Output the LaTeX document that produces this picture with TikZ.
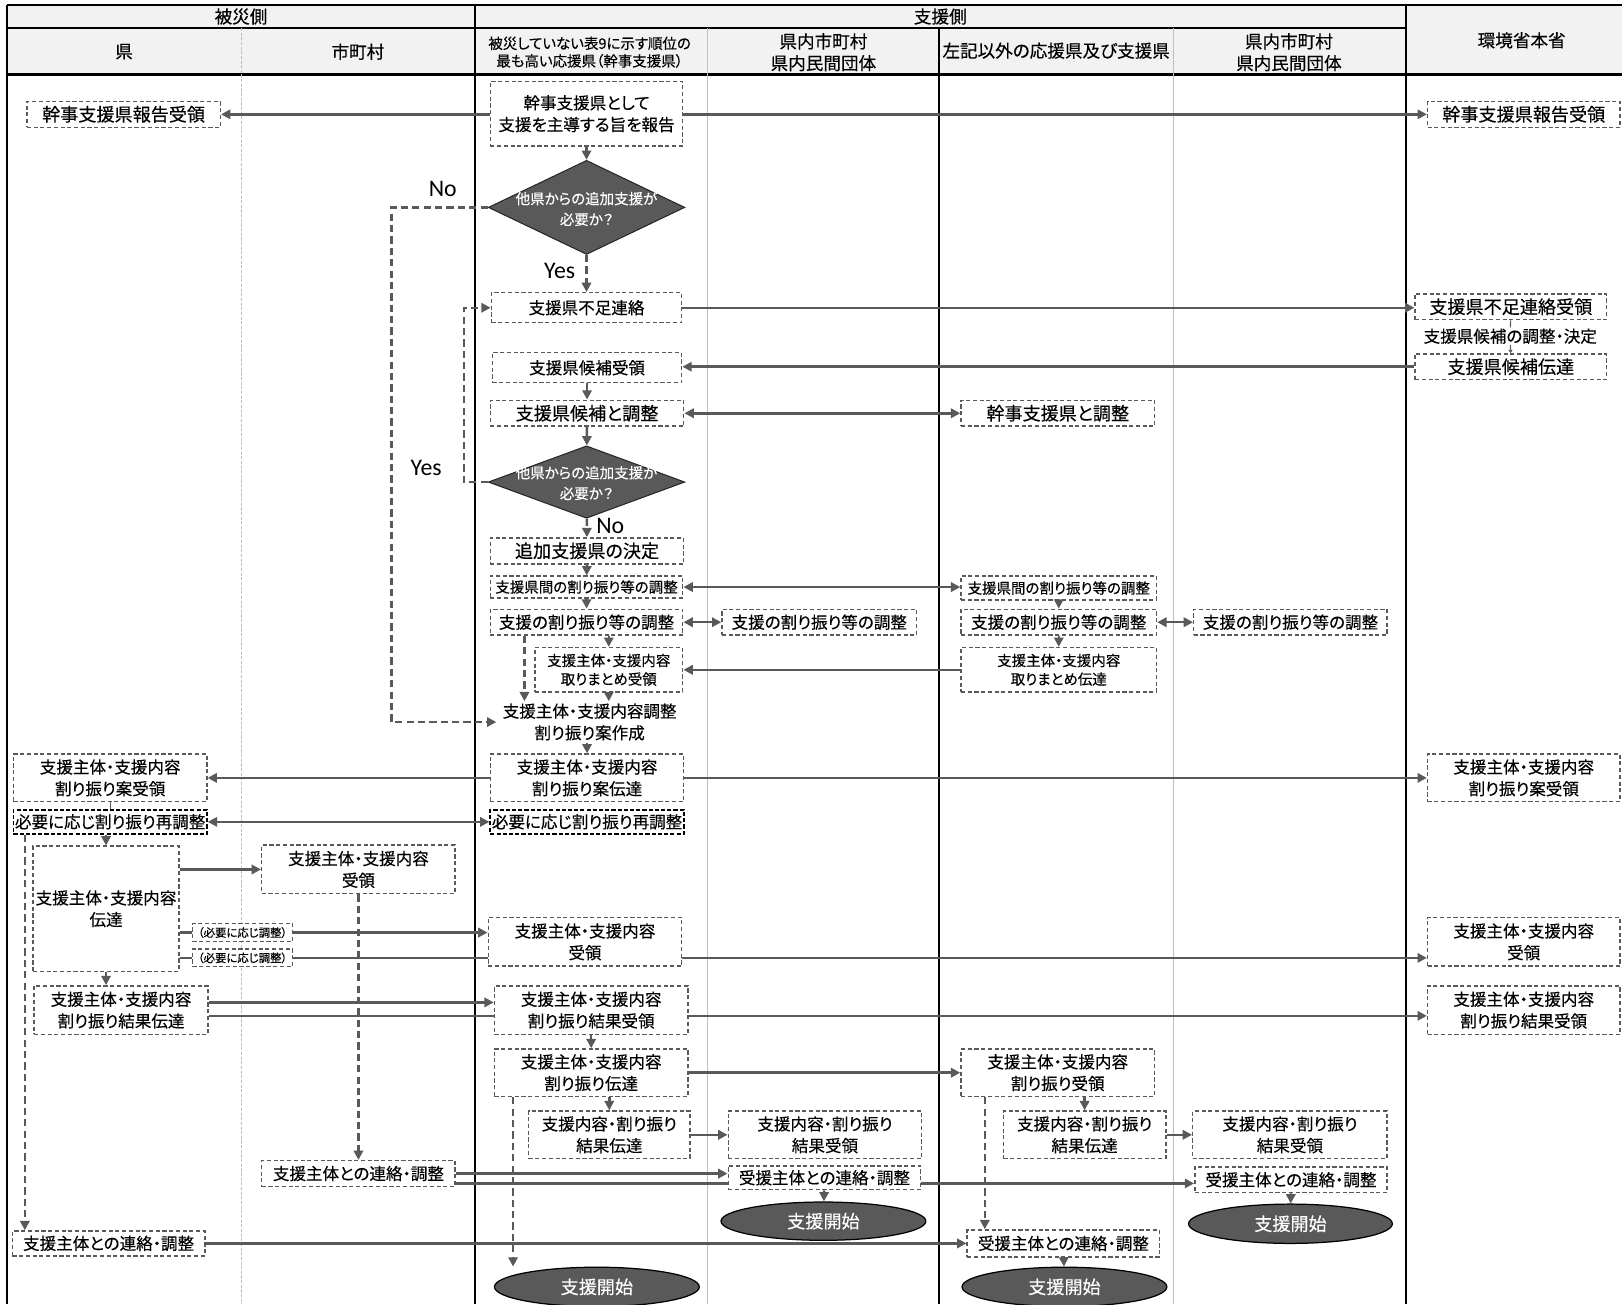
\documentclass[tikz,border=0pt]{standalone}
\usepackage{fontspec}
\setmainfont{Noto Sans CJK JP}[RawFeature=+palt, FakeBold=0.3]
\newfontfamily\yesnofont{Carlito}
\usetikzlibrary{arrows.meta,shapes.geometric}
\definecolor{lanegray}{HTML}{BFBFBF}
\definecolor{linegray}{HTML}{595959}
\definecolor{headfill}{HTML}{F2F2F2}
\definecolor{darkfill}{HTML}{595959}

\begin{document}
\begin{tikzpicture}[x=1pt, y=-1pt,
	every node/.style={font=\fontsize{16}{21}\selectfont},
	sz/.style 2 args={minimum width=#1, minimum height=#2},
	box/.style={draw=linegray, line width=1.4pt, dash pattern=on 4pt off 2.5pt, fill=white, inner sep=0pt, align=center},
	boxk/.style={box, draw=black, line width=1.8pt, dash pattern=on 4pt off 2pt},
	big/.style={font=\fontsize{17.5}{21}\selectfont},
	small/.style={font=\fontsize{14}{18}\selectfont},
	tiny/.style={font=\fontsize{11}{12}\selectfont},
	head/.style={font=\fontsize{17}{21}\selectfont, align=center},
	decision/.style={diamond, draw=black!85, fill=darkfill, line width=1pt, inner sep=0pt},
	dlabel/.style={text=white, font=\fontsize{14}{20}\selectfont, align=center},
	startstop/.style={ellipse, draw=black, fill=darkfill, line width=1.2pt, inner sep=0pt, text=white, font=\fontsize{17.5}{21}\selectfont},
	yn/.style={font=\yesnofont\fontsize{23}{25}\selectfont},
	flow/.style={draw=linegray, line width=2.4pt, -{Triangle[length=9pt,width=9pt]}},
	flowb/.style={flow, {Triangle[length=9pt,width=9pt]}-{Triangle[length=9pt,width=9pt]}},
	dflow/.style={flow, dash pattern=on 7pt off 4pt},
	link/.style={draw=linegray, line width=2.4pt},
	tick/.style={draw=linegray, line width=1pt},
	lane/.style={line width=2pt},
	sublane/.style={lanegray, line width=0.8pt}]
	\clip (0,0) rectangle (1568,1261);
	\fill[headfill] (7,5) rectangle (1570,72);
	\draw[lane] (7,5) -- (1570,5);
	\draw[lane] (7,27) -- (1359,27);
	\draw[lane] (7,72) -- (1570,72);
	\draw[lane] (7,5) -- (7,1261);
	\foreach \x in {459,1359} \draw[lane] (\x,5) -- (\x,1261);
	\draw[lane] (908,27) -- (908,1261);
	\draw[sublane, dash pattern=on 3pt off 1.5pt] (233,27) -- (233,1261);
	\foreach \x in {684,1134} \draw[sublane] (\x,27) -- (\x,1261);

	\node[head] (hdisaster) at (233,16) {被災側};
	\node[head] (hsupport) at (909,16) {支援側};
	\node[head] (hpref) at (120,50) {県};
	\node[head] (hmuni) at (346,50) {市町村};
	\node[head, font=\fontsize{14}{17}\selectfont] (hlead) at (570,50.5) {被災していない表9に示す順位の\\最も高い応援県（幹事支援県）};
	\node[head] (hlocA) at (796,50.5) {県内市町村\\県内民間団体};
	\node[head] (hother) at (1021,49) {左記以外の応援県及び支援県};
	\node[head] (hlocB) at (1246,50.5) {県内市町村\\県内民間団体};
	\node[head] (hmoe) at (1471,39) {環境省本省};

	\node[box, big, sz={187}{25}] (pref1) at (119.5,110.5) {幹事支援県報告受領};
	\node[box, sz={187}{46}] (pref2) at (106.5,752) {支援主体・支援内容\\割り振り案受領};
	\node[boxk, sz={187}{23}] (pref3) at (106.5,794.5) {必要に応じ割り振り再調整};
	\node[box, sz={141}{121}] (pref4) at (102.5,878.5) {支援主体・支援内容\\伝達};
	\node[box, sz={168}{47}] (pref5) at (117,976.5) {支援主体・支援内容\\割り振り結果伝達};
	\node[box, sz={186}{24}] (pref6) at (105,1202) {支援主体との連絡・調整};

	\node[box, sz={187}{47}] (muni1) at (346.5,840.5) {支援主体・支援内容\\受領};
	\node[box, sz={187}{25}] (muni2) at (346.5,1134.5) {支援主体との連絡・調整};
	\node[box, tiny, sz={97}{17}] (note1) at (234.5,901.5) {（必要に応じ調整）};
	\node[box, tiny, sz={97}{17}] (note2) at (234.5,926) {（必要に応じ調整）};

	\node[box, sz={186}{62}] (lead1) at (567,110) {幹事支援県として\\支援を主導する旨を報告};
	\node[decision, sz={190}{91}] (ask1) at (567,200.5) {};
	\node[dlabel] (ask1t) at (567,202) {他県からの追加支援が\\必要か？};
	\node[box, sz={184}{29}] (lead2) at (567,297.5) {支援県不足連絡};
	\node[box, sz={183}{29}] (lead3) at (567.5,355.5) {支援県候補受領};
	\node[box, big, sz={187}{25}] (lead4) at (567.5,399.5) {支援県候補と調整};
	\node[decision, sz={190}{70}] (ask2) at (567,466) {};
	\node[dlabel] (ask2t) at (567,467) {他県からの追加支援が\\必要か？};
	\node[box, big, sz={187}{25}] (lead5) at (567.5,532.5) {追加支援県の決定};
	\node[box, small, sz={186}{21}] (lead6) at (567,567.5) {支援県間の割り振り等の調整};
	\node[box, sz={186}{25}] (lead7) at (567,601.5) {支援の割り振り等の調整};
	\node[box, small, sz={143}{43}] (lead8) at (588.5,647.5) {支援主体・支援内容\\取りまとめ受領};
	\node[align=center, inner xsep=6pt, inner ysep=2pt] (lead9) at (570,698) {支援主体・支援内容調整\\割り振り案作成};
	\node[box, sz={187}{46}] (lead10) at (567.5,752) {支援主体・支援内容\\割り振り案伝達};
	\node[boxk, sz={187}{23}] (lead11) at (567.5,794.5) {必要に応じ割り振り再調整};
	\node[box, sz={187}{47}] (lead12) at (565.5,910.5) {支援主体・支援内容\\受領};
	\node[box, sz={187}{47}] (lead13) at (571.5,976.5) {支援主体・支援内容\\割り振り結果受領};
	\node[box, sz={187}{46}] (lead14) at (571.5,1037) {支援主体・支援内容\\割り振り伝達};
	\node[box, sz={156}{46}] (lead15) at (589,1097) {支援内容・割り振り\\結果伝達};
	\node[startstop, sz={198}{38}] (lead16) at (577,1244) {支援開始};

	\node[yn] (no1) at (428,183) {No};
	\node[yn] (yes1) at (541,262) {Yes};
	\node[yn] (yes2) at (412,452) {Yes};
	\node[yn] (no2) at (590,508) {No};

	\node[box, sz={188}{25}] (locA1) at (792,601.5) {支援の割り振り等の調整};
	\node[box, sz={187}{46}] (locA2) at (797.5,1097) {支援内容・割り振り\\結果受領};
	\node[box, sz={186}{23}] (locA3) at (797,1138.5) {受援主体との連絡・調整};
	\node[startstop, sz={198}{37}] (locA4) at (796,1180.5) {支援開始};

	\node[box, big, sz={187}{25}] (other1) at (1022.5,399.5) {幹事支援県と調整};
	\node[box, small, sz={189}{23}] (other2) at (1023.5,568.5) {支援県間の割り振り等の調整};
	\node[box, sz={189}{25}] (other3) at (1023.5,601.5) {支援の割り振り等の調整};
	\node[box, small, sz={189}{43}] (other4) at (1023.5,647.5) {支援主体・支援内容\\取りまとめ伝達};
	\node[box, sz={187}{46}] (other5) at (1022.5,1037) {支援主体・支援内容\\割り振り受領};
	\node[box, sz={157}{46}] (other6) at (1048.5,1097) {支援内容・割り振り\\結果伝達};
	\node[box, sz={186}{26}] (other7) at (1028,1202) {受援主体との連絡・調整};
	\node[startstop, sz={198}{38}] (other8) at (1029,1244) {支援開始};

	\node[box, sz={187}{25}] (locB1) at (1247.5,601.5) {支援の割り振り等の調整};
	\node[box, sz={188}{46}] (locB2) at (1247,1097) {支援内容・割り振り\\結果受領};
	\node[box, sz={186}{25}] (locB3) at (1248,1140.5) {受援主体との連絡・調整};
	\node[startstop, sz={197}{38}] (locB4) at (1247.5,1183) {支援開始};

	\node[box, big, sz={186}{25}] (moe1) at (1473,110.5) {幹事支援県報告受領};
	\node[box, big, sz={185}{25}] (moe2) at (1460.5,296.5) {支援県不足連絡受領};
	\node[inner sep=1pt] (moe3) at (1460,325) {支援県候補の調整・決定};
	\node[box, big, sz={185}{25}] (moe4) at (1460.5,354.5) {支援県候補伝達};
	\node[box, sz={186}{46}] (moe5) at (1473,752) {支援主体・支援内容\\割り振り案受領};
	\node[box, sz={186}{47}] (moe6) at (1473,910.5) {支援主体・支援内容\\受領};
	\node[box, sz={186}{47}] (moe7) at (1473,976.5) {支援主体・支援内容\\割り振り結果受領};

	\coordinate (pref3drop) at (24,0);
	\coordinate (lead7drop) at (507,0);
	\coordinate (lead14drop) at (496,0);
	\coordinate (other5drop) at (952,0);

	\draw[flow] (lead1.west |- pref1) -- (pref1.east);
	\draw[flow] (lead1.east |- moe1) -- (moe1.west);
	\draw[flow] (lead1) -- (ask1);
	\draw[dflow] (ask1.west) -- ++(-93,0) |- (lead9.west);
	\draw[dflow] (ask1) -- (lead2);
	\draw[flow] (lead2.east) -- (lead2.east -| moe2.west);
	\draw[tick] (moe2) -- (moe3);
	\draw[tick, -{Triangle[length=3pt,width=4pt]}] (moe3) -- (moe4);
	\draw[flow] (moe4.west) -- (moe4.west -| lead3.east);
	\draw[flow] (lead3) -- (lead4);
	\draw[flowb] (lead4) -- (other1);
	\draw[flow] (lead4) -- (ask2);
	\draw[dflow] (ask2.west) -- ++(-23,0) |- (lead2.west);
	\draw[dflow] (ask2) -- (lead5);
	\draw[flow] (lead5) -- (lead6);
	\draw[flow] (lead6) -- (lead7);
	\draw[flowb] (lead6.east) -- (lead6.east -| other2.west);
	\draw[flow] (other2) -- (other3);
	\draw[flow] (other3) -- (other4);
	\draw[flowb] (lead7) -- (locA1);
	\draw[flowb] (other3) -- (locB1);
	\draw[flow] (lead7.south -| lead8) -- (lead8);
	\draw[dflow] (lead7.south -| lead7drop) -- (lead7drop |- lead9.north);
	\draw[flow] (other4) -- (lead8);
	\draw[flow] (lead8) -- (lead8 |- lead9.north);
	\draw[flow] (lead9.south -| lead10) -- (lead10);
	\draw[flow] (lead10) -- (pref2);
	\draw[flow] (lead10) -- (moe5);
	\draw[flowb] (pref3) -- (lead11);
	\draw[tick, line width=1.2pt] (pref2) -- (pref3);
	\draw[flow] (pref3.south -| pref4) -- (pref4);
	\draw[dflow] (pref3.south -| pref3drop) -- (pref3drop |- pref6.north);
	\draw[flow] (pref4.east |- muni1) -- (muni1);
	\draw[link] (pref4.east |- note1) -- (note1);
	\draw[flow] (note1) -- (note1 -| lead12.west);
	\draw[link] (pref4.east |- note2) -- (note2);
	\draw[link] (note2) -- (note2 -| lead12.west);
	\draw[flow] (note2 -| lead12.east) -- (note2 -| moe6.west);
	\draw[flow] (pref4.south) -- (pref4.south |- pref5.north);
	\draw[flow] ([yshift=7.5pt]pref5.east) -- ([yshift=7.5pt]pref5.east -| lead13.west);
	\draw[link] ([yshift=-5.5pt]pref5.east) -- ([yshift=-5.5pt]pref5.east -| lead13.west);
	\draw[flow] ([yshift=-5.5pt]pref5.east -| lead13.east) -- ([yshift=-5.5pt]pref5.east -| moe7.west);
	\draw[flow] (lead13) -- (lead14);
	\draw[flow] (lead14) -- (other5);
	\draw[flow] (lead14.south -| lead15) -- (lead15);
	\draw[dflow] (lead14.south -| lead14drop) -- (lead14drop |- lead16.north);
	\draw[flow] (other5.south -| other6) -- (other6);
	\draw[dflow] (other5.south -| other5drop) -- (other5drop |- other7.north);
	\draw[flow] (lead15) -- (locA2);
	\draw[flow] (other6) -- (locB2);
	\draw[dflow] (muni1) -- (muni2);
	\draw[flow] (muni2.east) -- (muni2.east -| locA3.west);
	\draw[link] ([yshift=-9.5pt]muni2.east) -- ([yshift=-9.5pt]muni2.east -| locA3.west);
	\draw[flow] ([yshift=-9.5pt]muni2.east -| locA3.east) -- ([yshift=-9.5pt]muni2.east -| locB3.west);
	\draw[flow] (locA3) -- (locA4);
	\draw[flow] (locB3) -- (locB4);
	\draw[flow] (pref6) -- (other7);
	\draw[flow] (other7) -- (other8);
\end{tikzpicture}
\end{document}
